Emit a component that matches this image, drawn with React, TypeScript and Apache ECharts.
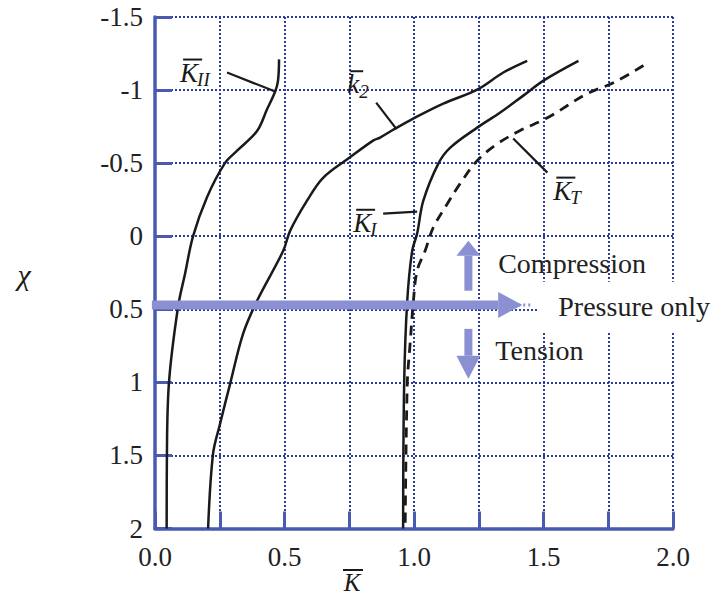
import React, { useEffect, useRef } from 'react';
import * as echarts from 'echarts';

// ---- data (x = K̄, y = χ) ----
const xTickValues = [0, 0.5, 1.0, 1.5, 2.0];
const yTickValues = [-1.5, -1, -0.5, 0, 0.5, 1, 1.5, 2];

const kIIx = [0.479, 0.475, 0.464, 0.433, 0.394, 0.317, 0.27, 0.2, 0.147, 0.116, 0.089, 0.054, 0.046, 0.045];
const kIIy = [-1.21, -1.065, -0.99, -0.87, -0.72, -0.585, -0.5, -0.264, 0.0, 0.257, 0.483, 1.0, 1.5, 2.0];

const k2x = [1.437, 1.345, 1.244, 1.113, 0.997, 0.927, 0.869, 0.842, 0.753, 0.649, 0.587, 0.522, 0.495, 0.394, 0.34, 0.29, 0.251, 0.224, 0.205];
const k2y = [-1.2, -1.12, -1.003, -0.907, -0.805, -0.736, -0.675, -0.654, -0.54, -0.4, -0.243, -0.038, 0.1, 0.442, 0.668, 1.01, 1.285, 1.49, 2.0];

const kIx = [1.635, 1.5, 1.422, 1.333, 1.244, 1.14, 1.094, 1.036, 1.012, 0.993, 0.974, 0.962, 0.958];
const kIy = [-1.2, -1.065, -0.962, -0.846, -0.743, -0.606, -0.497, -0.243, -0.017, 0.1, 0.44, 1.01, 2.0];

const kTx = [1.886, 1.77, 1.669, 1.515, 1.41, 1.32, 1.244, 1.178, 1.128, 1.074, 1.043, 1.012, 0.997, 0.985, 0.974, 0.966];
const kTy = [-1.168, -1.05, -0.976, -0.81, -0.723, -0.63, -0.517, -0.36, -0.22, -0.058, 0.1, 0.236, 0.46, 0.737, 1.01, 2.0];

// curve labels: main letter, subscript, anchor (x, y) and leader lines
const labelNames = ['K', 'k', 'K', 'K'];
const labelSubs = ['II', '2', 'I', 'T'];
const labelX = [0.097, 0.742, 0.765, 1.538];
const labelY = [-1.12, -1.04, -0.092, -0.312];
const leaderFrom = [[0.278, -1.12], [0.854, -0.914], [0.881, -0.154], [1.383, -0.668]];
const leaderTo = [[0.464, -0.99], [0.931, -0.736], [1.012, -0.168], [1.515, -0.435]];

// loading-state annotations
const pressureY = 0.47;
const arrowEndX = 1.325;
const arrowTipX = 1.418;
const arrowDotsX = 1.46;
const vArrowX = 1.21;
const upArrow = [0.373, 0.134, 0.031]; // shaft start, head base, tip
const downArrow = [0.634, 0.818, 0.975];
const noteTexts = ['Compression', 'Pressure only', 'Tension'];
const noteX = [1.325, 1.557, 1.314];
const noteY = [0.188, 0.483, 0.784];

const AXIS = '#4a5ab0';
const GRID = '#2c3b9c';
const ARROW = '#8a90d2';
const INK = '#1a1a1a';
const SERIF = "'Liberation Serif', serif";

function pairs(xs: number[], ys: number[]) {
  return xs.map((x, i) => [x, ys[i]]);
}

export default function App() {
  const ref = useRef<HTMLDivElement>(null);
  useEffect(() => {
    if (!ref.current) return;
    const chart = echarts.init(ref.current, null, { renderer: 'svg' });
    const lineBase = { type: 'line', showSymbol: false, symbol: 'none', z: 3, smooth: 0.35 };
    chart.setOption({
      animation: false,
      backgroundColor: '#ffffff',
      textStyle: { fontFamily: SERIF },
      grid: { left: 155, top: 17, right: 41, bottom: 65.5 },
      xAxis: {
        type: 'value', min: 0, max: 2, interval: 0.25,
        axisLine: { onZero: false, lineStyle: { color: AXIS, width: 3.5 } },
        axisTick: { inside: true, length: 17, lineStyle: { color: AXIS, width: 3 } },
        axisLabel: {
          margin: 15, fontFamily: SERIF, fontSize: 27, color: '#222',
          formatter: (v: number) => (xTickValues.some((t) => Math.abs(t - v) < 1e-9) ? v.toFixed(1) : ''),
        },
        splitLine: { show: true, lineStyle: { color: GRID, width: 2, type: [2, 2] } },
      },
      yAxis: {
        type: 'value', inverse: true, min: -1.5, max: 2, interval: 0.5,
        axisLine: { onZero: false, lineStyle: { color: AXIS, width: 3.5 } },
        axisTick: { inside: true, length: 17, lineStyle: { color: AXIS, width: 3 } },
        axisLabel: {
          margin: 12, fontFamily: SERIF, fontSize: 27, color: '#222',
          formatter: (v: number) => (yTickValues.some((t) => Math.abs(t - v) < 1e-9) ? String(v) : ''),
        },
        splitLine: { show: true, lineStyle: { color: GRID, width: 2, type: [2, 2] } },
      },
      series: [
        { ...lineBase, name: 'KII', data: pairs(kIIx, kIIy), lineStyle: { color: INK, width: 2.5 } },
        { ...lineBase, name: 'k2', data: pairs(k2x, k2y), lineStyle: { color: INK, width: 2.5 } },
        { ...lineBase, name: 'KI', data: pairs(kIx, kIy), lineStyle: { color: INK, width: 2.5 } },
        { ...lineBase, name: 'KT', data: pairs(kTx, kTy), lineStyle: { color: INK, width: 2.8, type: [10, 7] } },
      ],
    });

    const px = (x: number, y: number) => chart.convertToPixel({ gridIndex: 0 }, [x, y]) as number[];
    const g: any[] = [];

    // horizontal "pressure only" arrow
    const a0 = px(-0.012, pressureY);
    const a1 = px(arrowEndX, pressureY);
    const a2 = px(arrowTipX, pressureY);
    const a3 = px(arrowDotsX, pressureY);
    g.push({ type: 'rect', z: 5, shape: { x: a0[0], y: a0[1] - 4.5, width: a1[0] - a0[0], height: 9 }, style: { fill: ARROW } });
    g.push({ type: 'polygon', z: 5, shape: { points: [[a1[0], a1[1] - 13], [a2[0], a2[1]], [a1[0], a1[1] + 13]] }, style: { fill: ARROW } });
    g.push({ type: 'line', z: 5, shape: { x1: a2[0] - 4, y1: a2[1], x2: a3[0], y2: a3[1] }, style: { stroke: ARROW, lineWidth: 3, lineDash: [2, 3] } });

    // vertical arrows
    const vert = (ys: number[]) => {
      const s = px(vArrowX, ys[0]);
      const b = px(vArrowX, ys[1]);
      const t = px(vArrowX, ys[2]);
      g.push({ type: 'rect', z: 5, shape: { x: s[0] - 4, y: Math.min(s[1], b[1]), width: 8, height: Math.abs(b[1] - s[1]) }, style: { fill: ARROW } });
      g.push({ type: 'polygon', z: 5, shape: { points: [[b[0] - 12, b[1]], [t[0], t[1]], [b[0] + 12, b[1]]] }, style: { fill: ARROW } });
    };
    vert(upArrow);
    vert(downArrow);

    // white box behind "Pressure only" (hides the grid there, as in the original)
    const pb = px(noteX[1], noteY[1]);
    g.push({ type: 'rect', z: 4, shape: { x: pb[0] - 20, y: pb[1] - 25, width: 714 - (pb[0] - 20), height: 51 }, style: { fill: '#ffffff' } });

    // notes
    noteTexts.forEach((t, i) => {
      const p = px(noteX[i], noteY[i]);
      g.push({ type: 'text', z: 6, x: p[0], y: p[1], style: { text: t, fill: '#222', fontFamily: SERIF, fontSize: 28, align: 'left', verticalAlign: 'middle' } });
    });

    // curve labels with overline and subscript
    labelNames.forEach((n, i) => {
      const p = px(labelX[i], labelY[i]);
      const isLower = n === 'k';
      g.push({ type: 'text', z: 6, x: p[0], y: p[1], style: { text: n, fill: INK, fontFamily: SERIF, fontStyle: 'italic', fontSize: 27, align: 'left', verticalAlign: 'middle' } });
      const w = isLower ? 13 : 19;
      g.push({ type: 'line', z: 6, shape: { x1: p[0] + 3, y1: p[1] - 13, x2: p[0] + 3 + w, y2: p[1] - 13 }, style: { stroke: INK, lineWidth: 2 } });
      g.push({ type: 'text', z: 6, x: p[0] + (isLower ? 12 : 17), y: p[1] + 7, style: { text: labelSubs[i], fill: INK, fontFamily: SERIF, fontStyle: 'italic', fontSize: 19, align: 'left', verticalAlign: 'middle' } });
      const f = px(leaderFrom[i][0], leaderFrom[i][1]);
      const t = px(leaderTo[i][0], leaderTo[i][1]);
      g.push({ type: 'line', z: 6, shape: { x1: f[0], y1: f[1], x2: t[0], y2: t[1] }, style: { stroke: INK, lineWidth: 2.2 } });
    });

    // axis names
    g.push({ type: 'text', z: 6, x: 24, y: 274, style: { text: 'χ', fill: INK, fontFamily: SERIF, fontStyle: 'italic', fontSize: 30, align: 'center', verticalAlign: 'middle' } });
    g.push({ type: 'text', z: 6, x: 352, y: 582, style: { text: 'K', fill: INK, fontFamily: SERIF, fontStyle: 'italic', fontSize: 25, align: 'center', verticalAlign: 'middle' } });
    g.push({ type: 'line', z: 6, shape: { x1: 343, y1: 570, x2: 363, y2: 570 }, style: { stroke: INK, lineWidth: 2 } });

    chart.setOption({ graphic: { elements: g } });

    return () => chart.dispose();
  }, []);
  return <div ref={ref} style={{ position: 'absolute', left: 0, top: 0, width: 714, height: 594 }} />;
}
